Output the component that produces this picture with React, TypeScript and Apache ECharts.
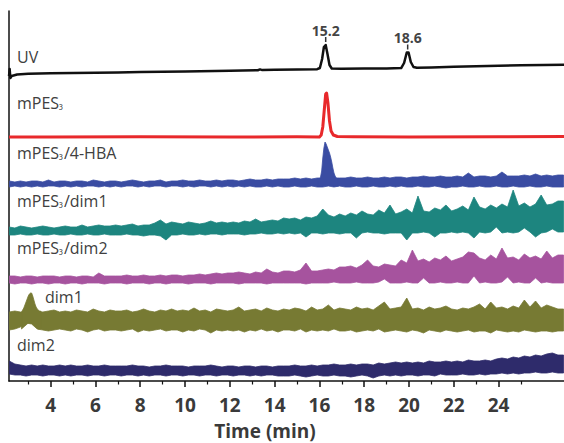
import React, { useEffect, useRef } from "react";
import * as echarts from "echarts";

// ---------- axis ----------
const T_MIN = 2.14;
const T_MAX = 26.92;
const xTickValues = [4, 6, 8, 10, 12, 14, 16, 18, 20, 22, 24];
const xMinorTickValues = [3, 5, 7, 9, 11, 13, 15, 17, 19, 21, 23, 25];
const xTitle = "Time (min)";

// ---------- trace names (rich-text pieces: [main, subscript, rest]) ----------
const traceNames: [string, string, string][] = [
  ["UV", "", ""],
  ["mPES", "₃", ""],
  ["mPES", "₃", "/4-HBA"],
  ["mPES", "₃", "/dim1"],
  ["mPES", "₃", "/dim2"],
  ["dim1", "", ""],
  ["dim2", "", ""],
];

// ---------- UV trace ----------
const uvTimes = [2.14, 2.17, 2.2, 2.26, 2.5, 3, 4, 5, 6, 7, 8, 10, 12, 13.25, 13.35, 13.45, 14, 15, 15.9, 16.02, 16.12, 16.2, 16.28, 16.36, 16.45, 16.55, 17, 18, 19, 19.65, 19.78, 19.9, 19.98, 20.08, 20.2, 20.35, 21, 22, 23, 24, 25, 26, 26.92];
const uvValues = [0, 7, -2, 0, 1.5, 2.3, 2.8, 3.0, 3.2, 3.6, 4.0, 4.6, 5.3, 5.8, 6.6, 5.9, 6.2, 6.5, 6.8, 8, 17, 29, 31, 22, 11, 7.5, 7.2, 7.4, 7.6, 7.9, 13, 23.5, 23.5, 14, 9, 8.2, 8.6, 9.2, 9.8, 10.3, 10.7, 11, 11.2];
const uvPeakTimes = [16.28, 19.94];
const uvPeakTops = [31, 23.5];
const uvPeakLabels = ["15.2", "18.6"];

// ---------- mPES3 trace ----------
const redTimes = [2.14, 4, 8, 12, 15, 16.0, 16.08, 16.15, 16.22, 16.28, 16.32, 16.38, 16.45, 16.52, 16.62, 16.8, 17.5, 20, 24, 26.92];
const redValues = [0, 0, 0.3, 0, 0.2, 0, 2, 10, 28, 43, 44, 34, 16, 6, 2, 0.5, 0.2, 0, 0.3, 0.5];

// ---------- noisy traces: upper / lower envelope per sample ----------
const noiseStart = 2.15;
const noiseStep = 0.25;

const blueHi = [
  3, 2, 3, 2, 3, 3, 2, 4, 2, 3,
  3, 2, 3, 3, 2, 4, 3, 2, 3, 3,
  2, 3, 4, 3, 2, 3, 3, 4, 2, 3,
  3, 4, 3, 3, 4, 3, 3, 4, 3, 4,
  4, 3, 4, 5, 4, 4, 5, 4, 5, 5,
  5, 6, 5, 6, 5, 6, 6, 5, 6, 6,
  6, 7, 6, 6, 7, 6, 6, 7, 6, 7,
  7, 6, 7, 7, 8, 7, 7, 8, 7, 7,
  8, 7, 11, 7, 8, 8, 7, 8, 12, 8,
  8, 8, 9, 8, 10, 8, 9, 8, 9,
];
const blueLo = [
  -3, -2, -3, -2, -3, -2, -3, -2, -2, -3,
  -2, -3, -2, -3, -2, -2, -3, -2, -3, -2,
  -3, -2, -2, -3, -2, -3, -2, -2, -3, -2,
  -2, -3, -2, -3, -2, -2, -3, -2, -3, -2,
  -3, -2, -3, -2, -3, -3, -2, -3, -2, -3,
  -3, -2, -3, -3, -2, -3, -3, -2, -3, -2,
  -3, -3, -2, -3, -3, -2, -3, -3, -2, -3,
  -2, -3, -3, -2, -3, -3, -2, -3, -4, -3,
  -3, -2, -3, -3, -2, -3, -3, -2, -3, -3,
  -2, -3, -3, -2, -3, -3, -2, -3, -3,
];
const bluePeakStart = 15.95;
const bluePeakHi = [3, 4, 7, 13, 26, 36, 42, 40, 37, 34, 31, 27, 22, 16, 11, 8, 6, 5];
const bluePeakLo = [-2, -2, -2, -2, -1, 0, 2, 3, 2, 1, 0, -1, -1, -2, -2, -2, -2, -2];

const tealHi = [
  4, 3, 5, 4, 3, 4, 5, 4, 3, 4,
  5, 4, 4, 6, 4, 5, 6, 5, 5, 6,
  5, 6, 7, 5, 6, 6, 8, 11, 7, 9,
  8, 7, 9, 8, 7, 8, 10, 8, 9, 8,
  9, 8, 10, 9, 12, 9, 10, 11, 10, 13,
  12, 13, 11, 14, 13, 15, 22, 16, 14, 17,
  15, 18, 16, 20, 17, 16, 21, 18, 26, 17,
  19, 22, 18, 35, 20, 19, 23, 21, 26, 20,
  22, 25, 21, 34, 24, 22, 26, 23, 27, 24,
  41, 25, 28, 24, 27, 36, 26, 27, 30,
];
const tealLo = [
  -4, -4, -3, -4, -4, -3, -4, -4, -3, -4,
  -4, -3, -4, -4, -3, -4, -4, -3, -4, -4,
  -4, -3, -4, -4, -5, -4, -4, -5, -9, -4,
  -4, -3, -4, -4, -3, -4, -3, -3, -4, -3,
  -3, -3, -4, -3, -3, -2, -3, -3, -2, -3,
  -2, -3, -2, -6, -2, -2, -3, -2, -2, -3,
  -2, -2, -7, -2, -1, -2, -2, -3, -2, -2,
  -2, -9, -2, -2, -1, -2, -6, -2, -2, -1,
  -2, -1, -2, -7, -1, -2, -1, 4, -2, -1,
  -2, -1, 3, -1, -6, -2, -1, 2, -1,
];

const magentaHi = [
  4, 4, 3, 4, 4, 3, 4, 4, 4, 3,
  4, 4, 3, 4, 4, 3, 7, 4, 4, 4,
  4, 5, 4, 4, 5, 4, 4, 5, 4, 5,
  5, 4, 5, 5, 6, 5, 6, 7, 6, 7,
  7, 8, 7, 6, 8, 7, 11, 8, 7, 9,
  9, 8, 10, 17, 9, 9, 10, 11, 10, 13,
  13, 14, 12, 15, 20, 14, 13, 16, 15, 14,
  20, 17, 30, 19, 21, 18, 22, 20, 24, 19,
  21, 23, 28, 27, 22, 20, 25, 21, 32, 22,
  23, 20, 26, 22, 24, 21, 29, 22, 25,
];
const magentaLo = [
  -3, -4, -3, -3, -4, -3, -3, -4, -3, -3,
  -4, -3, -3, -4, -3, -3, -3, -4, -3, -3,
  -3, -4, -3, -3, -3, -4, -3, -3, -4, -3,
  -3, -3, -4, -3, -3, -3, -4, -3, -3, -3,
  -3, -4, -3, -3, -3, -3, -4, -3, -3, -3,
  -3, -3, -3, -4, -3, -3, -3, -3, -2, -3,
  -3, -3, -2, -3, -3, -3, -2, 1, -3, -3,
  -3, -2, -3, -3, 2, -3, -3, -2, -3, -3,
  -2, -3, -3, 4, -3, -2, -3, -3, -2, 3,
  -3, -2, -3, -3, 2, -3, -2, -3, -3,
];

const oliveHi = [
  9, 10, 9, 9, 9, 10, 9, 10, 11, 9,
  10, 9, 11, 10, 9, 12, 10, 9, 11, 10,
  10, 11, 9, 10, 12, 10, 9, 11, 10, 12,
  10, 11, 10, 13, 10, 11, 9, 12, 11, 10,
  11, 14, 10, 11, 12, 10, 13, 11, 10, 12,
  11, 13, 12, 10, 14, 11, 12, 16, 11, 13,
  12, 11, 14, 12, 13, 11, 15, 19, 12, 13,
  14, 23, 12, 13, 11, 14, 12, 13, 15, 12,
  11, 13, 12, 14, 17, 12, 19, 13, 14, 12,
  15, 13, 21, 14, 20, 13, 16, 14, 12,
];
const oliveLo = [
  -9, -8, -6, -2, -3, -8, -9, -10, -9, -8,
  -9, -10, -8, -9, -11, -9, -8, -10, -9, -9,
  -10, -9, -8, -11, -9, -10, -9, -8, -10, -9,
  -9, -11, -9, -10, -8, -9, -12, -9, -10, -9,
  -10, -9, -11, -9, -10, -8, -10, -9, -11, -9,
  -9, -10, -8, -11, -9, -10, -9, -10, -8, -10,
  -10, -9, -11, -10, -9, -10, -8, -11, -10, -9,
  -10, -11, -9, -10, -12, -9, -10, -11, -9, -10,
  -11, -10, -9, -11, -10, -10, -12, -9, -10, -11,
  -10, -11, -9, -10, -11, -10, -10, -11, -10,
];
const olivePeakStart = 2.7;
const olivePeakHi = [9, 11, 13, 16, 19, 22, 25, 27, 28, 28, 25, 21, 17, 14, 12, 11, 10];
const olivePeakLo = [-8, -7, -6, -5, -4, -3, -2, -2, -2, -2, -3, -4, -5, -6, -7, -8, -8];

const navyHi = [
  9, 6, 5, 4, 5, 4, 5, 4, 4, 5,
  4, 5, 4, 4, 5, 4, 4, 5, 4, 4,
  4, 4, 5, 4, 4, 3, 4, 4, 5, 4,
  4, 4, 3, 4, 4, 4, 5, 4, 3, 4,
  4, 3, 4, 4, 3, 4, 4, 3, 4, 4,
  4, 5, 4, 4, 5, 4, 5, 5, 6, 5,
  5, 6, 5, 6, 6, 5, 7, 6, 7, 8,
  7, 8, 7, 8, 7, 9, 8, 8, 9, 8,
  9, 8, 10, 9, 9, 10, 9, 11, 12, 11,
  13, 12, 14, 13, 15, 14, 16, 17, 15,
];
const navyLo = [
  -4, -5, -5, -6, -5, -5, -6, -5, -5, -6,
  -5, -6, -5, -5, -6, -5, -5, -6, -5, -5,
  -6, -5, -5, -6, -5, -6, -5, -5, -6, -5,
  -5, -6, -5, -5, -6, -5, -5, -6, -5, -5,
  -6, -5, -5, -6, -5, -6, -5, -5, -6, -6,
  -6, -5, -6, -7, -6, -5, -6, -6, -5, -6,
  -6, -7, -6, -5, -6, -8, -6, -5, -6, -5,
  -6, -5, -5, -6, -5, -5, -6, -4, -5, -5,
  -5, -4, -5, -5, -4, -5, -4, -4, -3, -4,
  -3, -4, -3, -3, -2, -3, -3, -2, -3,
];
const peakStep = 0.05;

// ---------- layout / style (not data) ----------
const Y_MAX = 370;
const OFF = { uv: 305, red: 244, blue: 197, teal: 150, magenta: 101, olive: 60, navy: 11 };
const COLORS = {
  uv: "#111111",
  red: "#E8292B",
  blue: "#3A4CA2",
  teal: "#1D857F",
  magenta: "#A6539E",
  olive: "#777A33",
  navy: "#2E2B6B",
};
const LABEL_POS: [number, number][] = [
  [17, 57], [17, 103], [17, 153], [17, 201], [17, 248], [45, 297], [17, 345],
];
const FONT = '"Open Sans", "DejaVu Sans", sans-serif';

// Band between lower and upper envelope: one closed polygon through all samples.
function band(hi: number[], lo: number[], offset: number, start: number, step: number, color: string, z: number) {
  const data = hi.map((h, i) => [start + i * step, offset + lo[i], offset + h]);
  return {
    type: "custom",
    data,
    clip: true,
    silent: true,
    z,
    encode: { x: 0, y: [1, 2] },
    renderItem: (params: any, api: any) => {
      if (params.dataIndex !== 0) return null;
      const upper: number[][] = [];
      const lower: number[][] = [];
      data.forEach((d) => {
        upper.push(api.coord([d[0], d[2]]));
        lower.push(api.coord([d[0], d[1]]));
      });
      const last = data[data.length - 1];
      upper.push(api.coord([last[0] + step, last[2]]));
      lower.push(api.coord([last[0] + step, last[1]]));
      return {
        type: "polygon",
        shape: { points: upper.concat(lower.reverse()) },
        style: { fill: color, stroke: color, lineWidth: 0.8, lineJoin: "miter" },
      };
    },
  };
}

function line(times: number[], values: number[], offset: number, color: string, width: number, z: number) {
  return {
    type: "line",
    data: times.map((t, i) => [t, offset + values[i]]),
    showSymbol: false,
    symbol: "none",
    silent: true,
    z,
    lineStyle: { color, width, join: "round" },
  };
}

export default function App() {
  const ref = useRef<HTMLDivElement>(null);
  useEffect(() => {
    if (!ref.current) return;
    const chart = echarts.init(ref.current, undefined, { renderer: "svg" });
    const option: any = {
      animation: false,
      backgroundColor: "#ffffff",
      grid: { left: 9, right: 0, top: 11, bottom: 62 },
      xAxis: [
        {
          type: "value",
          min: T_MIN,
          max: T_MAX,
          axisLine: { show: true, lineStyle: { color: "#111", width: 1.5 } },
          axisTick: { show: true, customValues: xTickValues, length: 6, lineStyle: { color: "#111", width: 1.5 } },
          axisLabel: {
            show: true,
            customValues: xTickValues,
            fontSize: 19,
            fontWeight: "bold",
            color: "#3a3a3a",
            fontFamily: FONT,
            margin: 14,
          },
          splitLine: { show: false },
        },
        {
          type: "value",
          min: T_MIN,
          max: T_MAX,
          position: "bottom",
          axisLine: { show: false },
          axisTick: { show: true, customValues: xMinorTickValues, length: 3.5, lineStyle: { color: "#111", width: 1.2 } },
          axisLabel: { show: false },
          splitLine: { show: false },
        },
      ],
      yAxis: {
        type: "value",
        min: 0,
        max: Y_MAX,
        axisLine: { show: true, lineStyle: { color: "#111", width: 1.5 } },
        axisTick: { show: false },
        axisLabel: { show: false },
        splitLine: { show: false },
      },
      series: [
        line(uvTimes, uvValues, OFF.uv, COLORS.uv, 2.5, 5),
        line(redTimes, redValues, OFF.red, COLORS.red, 3, 5),
        band(blueHi, blueLo, OFF.blue, noiseStart, noiseStep, COLORS.blue, 3),
        band(bluePeakHi, bluePeakLo, OFF.blue, bluePeakStart, peakStep, COLORS.blue, 4),
        band(tealHi, tealLo, OFF.teal, noiseStart, noiseStep, COLORS.teal, 3),
        band(magentaHi, magentaLo, OFF.magenta, noiseStart, noiseStep, COLORS.magenta, 3),
        band(oliveHi, oliveLo, OFF.olive, noiseStart, noiseStep, COLORS.olive, 3),
        band(olivePeakHi, olivePeakLo, OFF.olive, olivePeakStart, peakStep, COLORS.olive, 4),
        band(navyHi, navyLo, OFF.navy, noiseStart, noiseStep, COLORS.navy, 3),
        {
          type: "custom",
          silent: true,
          z: 6,
          clip: false,
          data: uvPeakTimes.map((t, i) => [t, OFF.uv + uvPeakTops[i]]),
          encode: { x: 0, y: 1 },
          renderItem: (params: any, api: any) => {
            const p = api.coord([api.value(0), api.value(1)]);
            return {
              type: "group",
              children: [
                {
                  type: "line",
                  shape: { x1: p[0], y1: p[1] - 3, x2: p[0], y2: p[1] - 8 },
                  style: { stroke: "#333", lineWidth: 1.5 },
                },
                {
                  type: "text",
                  x: p[0],
                  y: p[1] - 15,
                  style: {
                    text: uvPeakLabels[params.dataIndex],
                    align: "center",
                    verticalAlign: "middle",
                    fontSize: 14,
                    fontWeight: "bold",
                    fontFamily: FONT,
                    fill: "#444",
                  },
                },
              ],
            };
          },
        },
      ],
      graphic: [
        ...traceNames.map((parts, i) => ({
          type: "text",
          x: LABEL_POS[i][0],
          y: LABEL_POS[i][1],
          silent: true,
          style: {
            text:
              "{n|" + parts[0] + "}" +
              (parts[1] ? "{s|" + parts[1] + "}" : "") +
              (parts[2] ? "{n|" + parts[2] + "}" : ""),
            fontSize: 16,
            fontFamily: FONT,
            fill: "#404040",
            verticalAlign: "middle",
            align: "left",
            rich: {
              n: { fontSize: 16, fontFamily: FONT, fill: "#404040", color: "#404040", verticalAlign: "bottom", lineHeight: 20, height: 20 },
              s: { fontSize: 11, fontFamily: FONT, fill: "#404040", color: "#404040", verticalAlign: "bottom", lineHeight: 14, height: 20, padding: [4, 1, 0, 0] },
            },
          },
        })),
        {
          type: "text",
          x: 265,
          y: 431,
          silent: true,
          style: {
            text: xTitle,
            fontSize: 19,
            fontWeight: "bold",
            fontFamily: FONT,
            fill: "#3a3a3a",
            align: "center",
            verticalAlign: "middle",
          },
        },
      ],
    };
    chart.setOption(option);
    return () => chart.dispose();
  }, []);
  return (
    <div
      ref={ref}
      style={{ position: "fixed", left: 0, top: 0, width: 564, height: 443, background: "#fff" }}
    />
  );
}
